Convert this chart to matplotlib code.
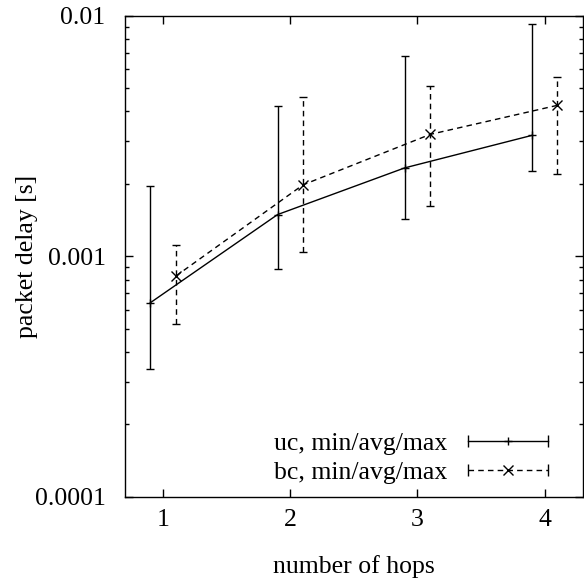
import matplotlib
matplotlib.use("Agg")
import matplotlib.pyplot as plt
import numpy as np
from matplotlib.legend_handler import HandlerBase
from matplotlib.lines import Line2D
from matplotlib.ticker import FixedLocator, FixedFormatter, LogLocator, NullFormatter

# ---- data ----
hops = [1, 2, 3, 4]
uc_x = [0.9, 1.9, 2.9, 3.9]
bc_x = [1.1, 2.1, 3.1, 4.1]
uc_avg = [6.41e-4, 1.49e-3, 2.33e-3, 3.18e-3]
uc_min = [3.39e-4, 8.85e-4, 1.43e-3, 2.26e-3]
uc_max = [1.95e-3, 4.21e-3, 6.80e-3, 9.20e-3]
bc_avg = [8.27e-4, 1.98e-3, 3.21e-3, 4.24e-3]
bc_min = [5.22e-4, 1.04e-3, 1.62e-3, 2.20e-3]
bc_max = [1.11e-3, 4.58e-3, 5.09e-3, 5.55e-3]
ytick_vals = [1e-4, 1e-3, 1e-2]
ytick_labels = ["0.0001", "0.001", "0.01"]
xtick_labels = ["1", "2", "3", "4"]
series_labels = ["uc, min/avg/max", "bc, min/avg/max"]

plt.rcParams['font.family'] = ['Liberation Serif', 'DejaVu Serif']
FS = 18.5

fig = plt.figure(figsize=(5.84, 5.81), dpi=100)
ax = fig.add_axes([0.214, 0.145, 0.784, 0.828])

DASH = (0, (4, 3))

uc_err = [np.array(uc_avg) - np.array(uc_min), np.array(uc_max) - np.array(uc_avg)]
bc_err = [np.array(bc_avg) - np.array(bc_min), np.array(bc_max) - np.array(bc_avg)]

e1 = ax.errorbar(uc_x, uc_avg, yerr=uc_err, color='black', lw=1.0, elinewidth=1.0,
                 capsize=3, capthick=1.0, marker='+', markersize=6, mew=1.0)
e2 = ax.errorbar(bc_x, bc_avg, yerr=bc_err, color='black', lw=1.0, elinewidth=1.0,
                 capsize=3, capthick=1.0, marker='x', markersize=6.5, mew=1.0, ls=DASH)
for c in e2[2]:
    c.set_linestyle(DASH)

ax.set_yscale('log')
ax.set_ylim(1e-4, 1e-2)
ax.set_xlim(0.7, 4.3)
ax.yaxis.set_major_locator(FixedLocator(ytick_vals))
ax.yaxis.set_major_formatter(FixedFormatter(ytick_labels))
ax.yaxis.set_minor_locator(LogLocator(base=10, subs=np.arange(2, 10)))
ax.yaxis.set_minor_formatter(NullFormatter())
ax.set_xticks(hops)
ax.set_xticklabels(xtick_labels)

ax.tick_params(which='both', direction='in', top=True, right=True, labelsize=FS)
ax.tick_params(which='major', length=6, width=1.0)
ax.tick_params(which='minor', length=3.2, width=1.0)
ax.tick_params(axis='y', which='major', pad=14)
ax.tick_params(axis='x', which='major', pad=9)
for s in ax.spines.values():
    s.set_linewidth(1.0)

ax.set_xlabel("number of hops", fontsize=FS, va='center')
ax.xaxis.set_label_coords(0.5, -0.146)
ax.set_ylabel("packet delay [s]", fontsize=FS, va='center')
ax.yaxis.set_label_coords(-0.214, 0.5)


class GnuHandler(HandlerBase):
    def __init__(self, ls, marker, ms):
        super().__init__()
        self.ls = ls
        self.marker = marker
        self.ms = ms

    def create_artists(self, legend, orig_handle, xdescent, ydescent, width, height, fontsize, trans):
        y = height / 2 - ydescent
        x0 = -xdescent
        x1 = -xdescent + width
        line = Line2D([x0, x1], [y, y], color='black', lw=1.0, ls=self.ls, transform=trans)
        caps = Line2D([x0, x1], [y, y], color='black', lw=0, marker='|', markersize=8,
                      mew=1.0, transform=trans)
        mid = Line2D([(x0 + x1) / 2], [y], color='black', lw=0, marker=self.marker,
                     markersize=self.ms, mew=1.0, transform=trans)
        return [line, caps, mid]


h1 = Line2D([], [])
h2 = Line2D([], [])
leg = ax.legend([h1, h2], series_labels,
                handler_map={h1: GnuHandler('-', '+', 6), h2: GnuHandler(DASH, 'x', 6.5)},
                loc='center right', bbox_to_anchor=(0.9236, 0.0805),
                frameon=False, markerfirst=False, fontsize=FS,
                handlelength=3.1, handletextpad=0.8, labelspacing=0.2,
                borderpad=0, borderaxespad=0)
for t in leg.get_texts():
    t.set_ha('right')

fig.savefig("out.png", dpi=100)
